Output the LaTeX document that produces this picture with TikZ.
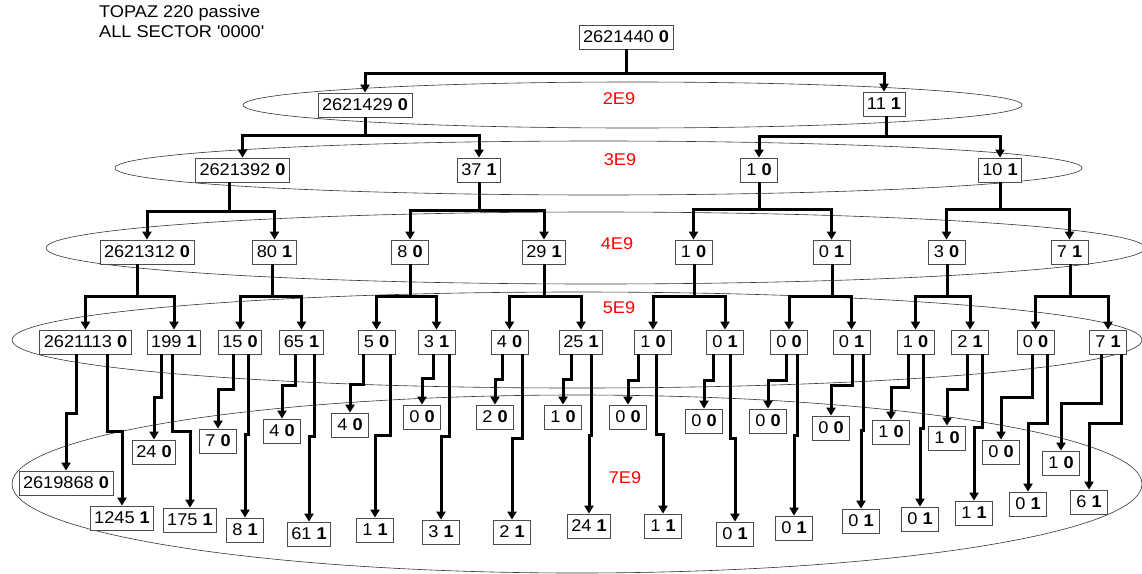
\documentclass[tikz,border=0pt]{standalone}
\usepackage{fontspec}
\setmainfont[FakeStretch=1.07]{Liberation Sans}
\usetikzlibrary{arrows.meta, positioning, calc}

\newcommand{\val}[2]{#1 \textbf{#2}}

\begin{document}
\begin{tikzpicture}[x=1pt, y=-1pt,
    every node/.style={font=\fontsize{17}{20}\selectfont},
    box/.style={draw=black!70, line width=0.8pt, fill=white, minimum width=37pt,
        minimum height=24pt, inner xsep=4pt, inner ysep=0pt},
    link/.style={line width=3pt, -{Triangle[width=9pt,length=8pt]}},
    layer/.style={draw=black!80, line width=0.6pt},
    tag/.style={text=red}]
    \useasboundingbox (0,0) rectangle (1142,573);

    % energy layers
    \draw[layer] (632.5,105) ellipse [x radius=389.5pt, y radius=23pt];
    \draw[layer] (598.5,168) ellipse [x radius=483.5pt, y radius=27pt];
    \draw[layer] (595.5,248) ellipse [x radius=549.5pt, y radius=36pt];
    \draw[layer] (577,340) ellipse [x radius=565pt, y radius=48pt];
    \draw[layer] (577,484) ellipse [x radius=565pt, y radius=89pt];

    \node[tag] (e2) at (619,99) {2E9};
    \node[tag] (e3) at (620,160) {3E9};
    \node[tag] (e4) at (617,244) {4E9};
    \node[tag] (e5) at (619,308) {5E9};
    \node[tag] (e7) at (625,478) {7E9};

    \node[anchor=north west, align=left, inner sep=0pt] (title) at (99,5)
        {TOPAZ 220 passive\\ALL SECTOR \textquotesingle 0000\textquotesingle};

    % levels 0 to 4
    \node[box] (r) at (626,37) {\val{2621440}{0}};
    \node[box] (p0) at (365,105) {\val{2621429}{0}};
    \node[box] (p1) at (884,104) {\val{11}{1}};
    \node[box] (q00) at (242.5,170) {\val{2621392}{0}};
    \node[box] (q01) at (479,170) {\val{37}{1}};
    \node[box] (q10) at (759,170) {\val{1}{0}};
    \node[box] (q11) at (1000,170) {\val{10}{1}};
    \node[box] (s1) at (147,252) {\val{2621312}{0}};
    \node[box] (s2) at (274.5,252) {\val{80}{1}};
    \node[box] (s3) at (410,252) {\val{8}{0}};
    \node[box] (s4) at (544,252) {\val{29}{1}};
    \node[box] (s5) at (693.5,252) {\val{1}{0}};
    \node[box] (s6) at (831.5,252) {\val{0}{1}};
    \node[box] (s7) at (946.5,252) {\val{3}{0}};
    \node[box] (s8) at (1069.5,252) {\val{7}{1}};
    \foreach \i/\x/\a/\b in {1/85.5/2621113/0, 2/174/199/1, 3/240/15/0, 4/301.5/65/1,
        5/376.5/5/0, 6/436.5/3/1, 7/509.5/4/0, 8/581/25/1, 9/653/1/0, 10/725/0/1,
        11/789/0/0, 12/851.5/0/1, 13/915.5/1/0, 14/970/2/1, 15/1035.5/0/0, 16/1108/7/1}
        \node[box] (t\i) at (\x,342) {\val{\a}{\b}};

    % leaves, 0 branch
    \foreach \i/\x/\y/\a in {1/66/483/2619868, 2/154/452/24, 3/218/441/7, 4/282/431/4,
        5/350/425/4, 6/422/417/0, 7/495/417/2, 8/563/417/1, 9/628/417/0, 10/704/421/0,
        11/768/421/0, 12/831/428/0, 13/891/432/1, 14/947/438/1, 15/1001/452/0, 16/1061/463/1}
        \node[box] (u\i) at (\x,\y) {\val{\a}{0}};
    % leaves, 1 branch
    \foreach \i/\x/\y/\a in {1/122/518/1245, 2/190/520/175, 3/245/530/8, 4/309/534/61,
        5/375/530/1, 6/441/532/3, 7/512/532/2, 8/589/526/24, 9/663/526/1, 10/735/534/0,
        11/794/528/0, 12/861/521/0, 13/920/519/0, 14/974/513/1, 15/1028/504/0, 16/1089/502/6}
        \node[box] (w\i) at (\x,\y) {\val{\a}{1}};

    % forks
    \foreach \p/\dx/\d/\a/\b in {r/0/24/p0/p1, p0/0/18/q00/q01, p1/2/20/q10/q11,
        q00/-13.5/29/s1/s2, q01/0/28/s3/s4, q10/0/27/s5/s6, q11/0/27/s7/s8,
        s1/-10/32/t1/t2, s2/-2.5/32/t3/t4, s3/0/32/t5/t6, s4/0/32/t7/t8,
        s5/0.5/32/t9/t10, s6/0.5/32/t11/t12, s7/0.5/32/t13/t14, s8/0.5/32/t15/t16} {
        \draw[link] ([xshift=\dx pt]\p.south) -- ++(0,\d) -| (\a.north);
        \draw[link] ([xshift=\dx pt]\p.south) -- ++(0,\d) -| (\b.north);
    }

    % steps down to the leaves
    \foreach \i/\dl/\jl/\dr/\jr in {1/-9.5/59/21.5/77, 2/-13/43/-2/77, 3/-7/35/8/80,
        4/-6.5/31/12.5/82, 5/-13.5/30/13.5/81, 6/-3.5/24/12.5/82, 7/-7.5/25/12.5/84,
        8/-10/25/10/81, 9/-15/26/3/80, 10/-12/26/5/84, 11/-3/26/8/81, 12/0.5/31/11.5/76,
        13/-7.5/33/7.5/74, 14/-3/35/12/73, 15/-3.5/43/11.5/69, 16/-7/49/13/69} {
        \draw[link] ([xshift=\dl pt]t\i.south) -- ++(0,\jl) -| (u\i.north);
        \draw[link] ([xshift=\dr pt]t\i.south) -- ++(0,\jr) -| (w\i.north);
    }
\end{tikzpicture}
\end{document}
